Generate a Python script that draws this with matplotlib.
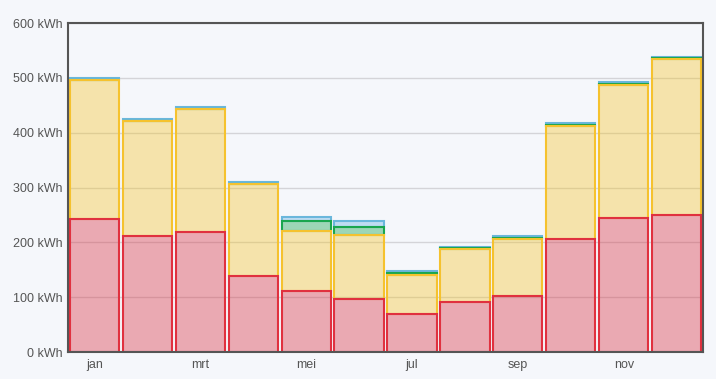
import matplotlib.pyplot as plt
import numpy as np

plt.rcParams["font.family"] = ["Liberation Sans", "DejaVu Sans"]

# maanden en waarden (kWh)
months = ["jan", "feb", "mrt", "apr", "mei", "jun", "jul", "aug", "sep", "okt", "nov", "dec"]
red = [243, 211, 219, 138, 111, 97, 69, 91, 102, 206, 244, 250]
yellow = [253, 210, 224, 168, 110, 116, 71, 97, 105, 207, 244, 285]
green = [1, 1, 1, 1, 18, 15, 4, 1, 1, 1, 1, 1]
blue = [3, 3, 3, 3, 7, 11, 4, 3, 3, 3, 3, 3]

series = [
    (red, (0.86, 0.21, 0.27, 0.4), "#e0313f"),
    (yellow, (0.96, 0.76, 0.12, 0.36), "#f5c22e"),
    (green, (0.10, 0.65, 0.31, 0.4), "#1aa64e"),
    (blue, (0.36, 0.67, 0.89, 0.35), "#6ab7dc"),
]

bg = "#f5f7fb"
fig = plt.figure(figsize=(7.16, 3.79), dpi=100, facecolor=bg)
ax = fig.add_axes([0.095, 0.071, 0.887, 0.868], facecolor=bg)

x = np.arange(len(months))
bottom = np.zeros(len(months))
# lower segments drawn on top so their top border stays visible
for i, (vals, face, edge) in enumerate(series):
    ax.bar(x, vals, width=0.93, bottom=bottom, color=face, edgecolor=edge,
           linewidth=1.5, zorder=6 - i)
    bottom += np.array(vals)

ax.set_xlim(-0.5, 11.5)
ax.set_ylim(0, 600)
ax.set_yticks(range(0, 601, 100))
ax.set_yticklabels([f"{v} kWh" for v in range(0, 601, 100)])
ax.set_xticks(x[::2])
ax.set_xticklabels(months[::2])
ax.grid(axis="y", color="#d4d4d8", linewidth=1, zorder=1)
ax.set_axisbelow(True)
ax.tick_params(length=0, labelsize=9, colors="#555555", pad=4)
ax.tick_params(axis="x", pad=5)
for s in ax.spines.values():
    s.set_color("#555555")
    s.set_linewidth(1.5)
    s.set_zorder(10)

fig.savefig("out.png", dpi=100, facecolor=bg)
